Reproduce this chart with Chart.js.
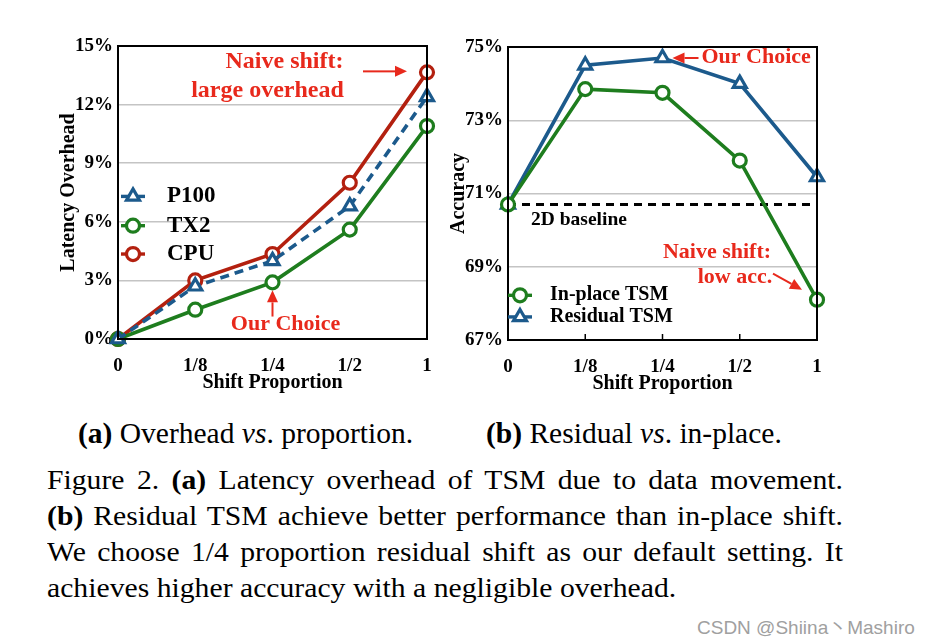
<!DOCTYPE html>
<html><head><meta charset="utf-8">
<script src="https://cdn.jsdelivr.net/npm/chart.js@4.4.1/dist/chart.umd.min.js"></script>
<style>
html,body{margin:0;padding:0;background:#fff;}
body{width:928px;height:640px;overflow:hidden;position:relative;font-family:"Liberation Serif","Times New Roman",serif;color:#000;}
canvas{position:absolute;}
#c1{left:0;top:0;}
#c2{left:390px;top:1px;}
.sub{position:absolute;top:416px;font-size:29.5px;line-height:34px;white-space:nowrap;}
#cap{position:absolute;left:47px;top:462px;width:723.6px;font-size:27px;line-height:36px;transform:scaleX(1.1);transform-origin:0 0;}
#cap div{text-align:justify;text-align-last:justify;white-space:nowrap;}
#cap div.last{text-align-last:left;}
#wm{position:absolute;left:697px;top:612px;font-family:"Liberation Sans","Noto Sans CJK SC",sans-serif;font-size:19px;color:#a0a0a0;white-space:nowrap;}
</style></head>
<body>
<canvas id="c1" width="464" height="400"></canvas>
<canvas id="c2" width="464" height="400"></canvas>
<div class="sub" style="left:78px"><b>(a)</b> Overhead <i>vs</i>. proportion.</div>
<div class="sub" style="left:486px"><b>(b)</b> Residual <i>vs</i>. in-place.</div>
<div id="cap">
<div>Figure 2. <b>(a)</b> Latency overhead of TSM due to data movement.</div>
<div><b>(b)</b> Residual TSM achieve better performance than in-place shift.</div>
<div>We choose 1/4 proportion residual shift as our default setting. It</div>
<div class="last">achieves higher accuracy with a negligible overhead.</div>
</div>
<div id="wm">CSDN @Shiina丶Mashiro</div>
<script>
// ---- data ----
const categories = ['0', '1/8', '1/4', '1/2', '1'];
const p100 = [0, 2.7, 4.0, 6.8, 12.4];
const tx2 = [0, 1.5, 2.9, 5.6, 10.9];
const cpu = [0, 3.0, 4.35, 8.0, 13.65];
const latencyTicks = [0, 3, 6, 9, 12, 15];
const inPlaceTSM = [70.7, 73.85, 73.75, 71.9, 68.1];
const residualTSM = [70.7, 74.5, 74.7, 74.0, 71.45];
const baseline2D = [70.7, 70.7, 70.7, 70.7, 70.7];
const accuracyTicks = [67, 69, 71, 73, 75];

const RED = '#b3200f', BLUE = '#1c5a8c', GREEN = '#1e7d1e', ANN = '#e8291c';
const SERIF = '"Liberation Serif","Times New Roman",serif';
const tickFont = {family: SERIF, size: 19, weight: 'bold'};
const titleFont = {family: SERIF, size: 20, weight: 'bold'};

function series(label, data, color, style, dash) {
  return {label, data, borderColor: color, backgroundColor: color, borderWidth: 3.6,
    borderDash: dash || [], pointStyle: style, pointRadius: style === 'triangle' ? 7.5 : 6.5,
    pointBorderWidth: 3.2, pointBackgroundColor: '#fff', pointBorderColor: color,
    tension: 0, clip: false, fill: false};
}

function arrow(ctx, x1, y1, x2, y2, color) {
  const a = Math.atan2(y2 - y1, x2 - x1), L = 12, W = 5.5;
  const bx = x2 - L * Math.cos(a), by = y2 - L * Math.sin(a);
  ctx.save();
  ctx.strokeStyle = color; ctx.fillStyle = color; ctx.lineWidth = 2;
  ctx.beginPath(); ctx.moveTo(x1, y1); ctx.lineTo(bx, by); ctx.stroke();
  ctx.beginPath(); ctx.moveTo(x2, y2);
  ctx.lineTo(bx + W * Math.sin(a), by - W * Math.cos(a));
  ctx.lineTo(bx - W * Math.sin(a), by + W * Math.cos(a));
  ctx.closePath(); ctx.fill();
  ctx.restore();
}

function text(ctx, s, x, y, color, size, align) {
  ctx.save();
  ctx.font = 'bold ' + size + 'px ' + SERIF;
  ctx.fillStyle = color; ctx.textAlign = align || 'center'; ctx.textBaseline = 'middle';
  ctx.fillText(s, x, y);
  ctx.restore();
}

function drawMarker(ctx, ds, x, y) {
  ctx.save();
  ctx.strokeStyle = ds.borderColor; ctx.lineWidth = 3.4;
  ctx.beginPath(); ctx.moveTo(x - 12, y); ctx.lineTo(x + 12, y); ctx.stroke();
  ctx.fillStyle = '#fff'; ctx.strokeStyle = ds.borderColor; ctx.lineWidth = 3.2;
  Chart.helpers.drawPoint(ctx, {pointStyle: ds.pointStyle, radius: ds.pointRadius, borderWidth: 3.2, rotation: 0}, x, y);
  ctx.restore();
}

const framePlugin = {
  id: 'frame',
  afterDraw(chart, args, opts) {
    const {ctx, chartArea: a} = chart;
    ctx.save();
    ctx.strokeStyle = '#000'; ctx.lineWidth = 2;
    ctx.strokeRect(a.left, a.top, a.right - a.left, a.bottom - a.top);
    if (opts.innerTicks) {
      const xs = chart.scales.x;
      ctx.lineWidth = 1.5;
      for (let i = 1; i < categories.length - 1; i++) {
        const px = xs.getPixelForValue(i);
        ctx.beginPath(); ctx.moveTo(px, a.bottom); ctx.lineTo(px, a.bottom - 6); ctx.stroke();
      }
    }
    ctx.restore();
  }
};

const leftAnn = {
  id: 'leftAnn',
  afterDraw(chart) {
    const {ctx} = chart; const xs = chart.scales.x, ys = chart.scales.y;
    const ds = chart.data.datasets;
    // legend: P100, TX2, CPU (top to bottom)
    const lx = xs.left + 15, tx = xs.left + 49;
    [[0, 7.3], [1, 5.8], [2, 4.35]].forEach(([i, v]) => {
      const y = ys.getPixelForValue(v);
      drawMarker(ctx, ds[i], lx, y);
      text(ctx, ds[i].label, tx, y, '#000', 23, 'left');
    });
    // Naive shift annotation
    const px = xs.getPixelForValue(4), py = ys.getPixelForValue(cpu[4]);
    arrow(ctx, px - 64, py - 1, px - 20, py - 1, ANN);
    text(ctx, 'Naive shift:', xs.getPixelForValue(2) + 12, ys.getPixelForValue(14.2), ANN, 24);
    text(ctx, 'large overhead', xs.getPixelForValue(2) - 5, ys.getPixelForValue(12.7), ANN, 24);
    // Our choice
    const qx = xs.getPixelForValue(2), qy = ys.getPixelForValue(tx2[2]);
    arrow(ctx, qx, ys.getPixelForValue(1.15), qx, qy + 8, ANN);
    text(ctx, 'Our Choice', qx + 13, ys.getPixelForValue(0.75), ANN, 22);
  }
};

const rightAnn = {
  id: 'rightAnn',
  afterDraw(chart) {
    const {ctx} = chart; const xs = chart.scales.x, ys = chart.scales.y;
    const ds = chart.data.datasets;
    const lx = xs.left + 12, tx = xs.left + 42;
    drawMarker(ctx, ds[0], lx, ys.getPixelForValue(68.22)); text(ctx, 'In-place TSM', tx, ys.getPixelForValue(68.22), '#000', 20, 'left');
    drawMarker(ctx, ds[1], lx, ys.getPixelForValue(67.63)); text(ctx, 'Residual TSM', tx, ys.getPixelForValue(67.63), '#000', 20, 'left');
    // 2D baseline label
    text(ctx, '2D baseline', xs.left + 23, ys.getPixelForValue(baseline2D[0]) + 15, '#000', 19.5, 'left');
    // Our choice
    const px = xs.getPixelForValue(2), py = ys.getPixelForValue(residualTSM[2]);
    arrow(ctx, px + 36, py, px + 10, py, ANN);
    text(ctx, 'Our Choice', px + 39, py - 1, ANN, 22, 'left');
    // Naive shift
    const qx = xs.getPixelForValue(4), qy = ys.getPixelForValue(inPlaceTSM[4]);
    text(ctx, 'Naive shift:', qx - 100, ys.getPixelForValue(69.4), ANN, 22);
    text(ctx, 'low acc.', qx - 82, ys.getPixelForValue(68.7), ANN, 22);
    arrow(ctx, qx - 44, qy - 26, qx - 15, qy - 10, ANN);
  }
};

function axes(ymin, ymax, ticksArr, ytitle) {
  return {
    x: {type: 'category', offset: false,
      grid: {display: false, drawTicks: false},
      border: {color: '#000', width: 2},
      ticks: {color: '#000', font: tickFont, padding: 16, maxRotation: 0, autoSkip: false},
      title: {display: true, text: 'Shift Proportion', color: '#000', font: titleFont, padding: {top: 0, bottom: 5}},
      afterFit(s) { s.height = 61; }
    },
    y: {min: ymin, max: ymax,
      afterBuildTicks(s) { s.ticks = ticksArr.map(v => ({value: v})); },
      grid: {color: '#c4c4c4', lineWidth: 1.5, drawTicks: false},
      border: {color: '#000', width: 2},
      ticks: {color: '#000', font: tickFont, padding: 5, callback: v => v + '%'},
      title: {display: true, text: ytitle, color: '#000', font: titleFont, padding: {top: 57, bottom: 0}},
      afterFit(s) { s.width = 118; }
    }
  };
}

new Chart(document.getElementById('c1'), {
  type: 'line',
  data: {labels: categories, datasets: [
    series('P100', p100, BLUE, 'triangle', [9, 6]),
    series('TX2', tx2, GREEN, 'circle'),
    series('CPU', cpu, RED, 'circle')
  ]},
  options: {
    responsive: false, animation: false, events: [],
    layout: {padding: {left: 0, right: 37, top: 46, bottom: 0}},
    plugins: {legend: {display: false}, tooltip: {enabled: false}, frame: {innerTicks: false}},
    scales: axes(0, 15, latencyTicks, 'Latency Overhead')
  },
  plugins: [framePlugin, leftAnn]
});

new Chart(document.getElementById('c2'), {
  type: 'line',
  data: {labels: categories, datasets: [
    series('In-place TSM', inPlaceTSM, GREEN, 'circle'),
    series('Residual TSM', residualTSM, BLUE, 'triangle'),
    {label: '2D baseline', data: baseline2D, borderColor: '#000', borderWidth: 3, borderDash: [8, 6],
      pointRadius: 0, tension: 0, fill: false}
  ]},
  options: {
    responsive: false, animation: false, events: [],
    layout: {padding: {left: 0, right: 37, top: 46, bottom: 0}},
    plugins: {legend: {display: false}, tooltip: {enabled: false}, frame: {innerTicks: true}},
    scales: axes(67, 75, accuracyTicks, 'Accuracy')
  },
  plugins: [framePlugin, rightAnn]
});
</script>
</body></html>
